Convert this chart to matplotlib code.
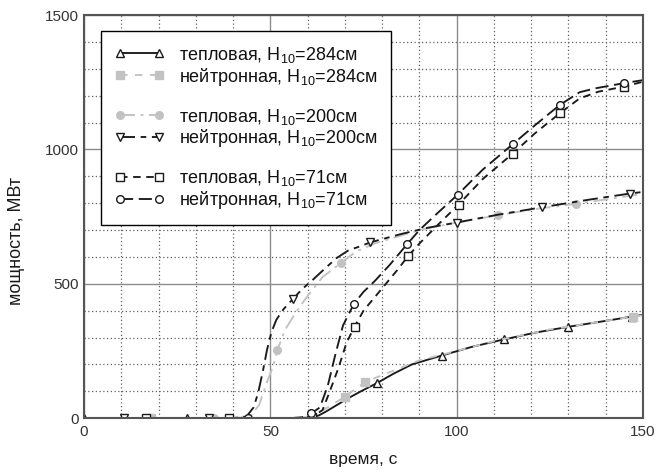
import matplotlib
matplotlib.use('Agg')
import matplotlib.pyplot as plt
from matplotlib.lines import Line2D

plt.rcParams['font.family'] = ['Liberation Sans', 'DejaVu Sans']
plt.rcParams['mathtext.fontset'] = 'custom'
plt.rcParams['mathtext.rm'] = 'Liberation Sans'
plt.rcParams['mathtext.it'] = 'Liberation Sans:italic'
plt.rcParams['mathtext.default'] = 'regular'

# тепловая, H10=284 см
t284_x = [0, 10.6, 27.5, 44, 55, 61, 63, 65, 68, 71, 75, 78.7, 83, 88, 96,
          104, 112.7, 121, 130, 140, 147, 150]
t284_y = [0, 0, 0, 0, 0, 2, 10, 25, 50, 75, 105, 131, 165, 200, 233,
          265, 293, 318, 340, 362, 378, 385]
t284_m = [0, 1, 2, 3, 11, 14, 16, 18, 20]

# нейтронная, H10=284 см
n284_x = [0, 18, 55, 60, 63, 66, 70, 75.4, 80, 90, 100, 111, 125, 140,
          147.2, 150]
n284_y = [0, 0, 0, 3, 20, 45, 80, 134, 160, 215, 250, 290, 330, 362,
          378, 383]
n284_m = [1, 6, 7, 14]

# тепловая, H10=200 см
t200_x = [0, 35, 42, 45, 47, 49, 50.7, 51.9, 54, 57, 60, 64, 68.9, 73, 78,
          90, 100, 111, 121, 132, 142, 150]
t200_y = [0, 0, 2, 12, 50, 130, 192, 254, 330, 397, 455, 525, 577, 620, 650,
          700, 728, 755, 778, 798, 818, 835]
t200_m = [1, 7, 12, 17, 19]

# нейтронная, H10=200 см
n200_x = [0, 10.7, 33.4, 40, 43.6, 45.5, 46.7, 48, 49.1, 50.3, 51.6, 53.5,
          56.1, 58.5, 61.4, 64.5, 67.7, 71, 74, 76.8, 85, 92, 100, 111, 123,
          135, 146.5, 150]
n200_y = [0, 0, 0, 0, 6, 40, 93, 175, 254, 320, 366, 405, 444, 480, 515,
          555, 595, 625, 639, 654, 685, 708, 728, 757, 785, 812, 836, 842]
n200_m = [1, 2, 12, 19, 22, 24, 26]

# тепловая, H10=71 см
t71_x = [0, 16.7, 39, 55, 61.3, 64, 65.4, 66.9, 68.4, 70.4, 72.6, 75, 78, 81,
         84, 86.9, 90, 95, 100.5, 107, 115, 121, 127.7, 133, 138, 144.9, 150]
t71_y = [0, 0, 0, 0, 5, 30, 80, 135, 192, 279, 341, 400, 450, 500,
         550, 602, 650, 720, 795, 890, 984, 1060, 1135, 1190, 1215, 1234, 1252]
t71_m = [1, 2, 4, 10, 15, 18, 20, 22, 25]

# нейтронная, H10=71 см
n71_x = [0, 44, 58, 61, 63.3, 65.4, 67.5, 69.5, 72.4, 75, 78, 82, 86.8, 90,
         95, 100.3, 107, 115, 121, 127.7, 133, 137, 141, 144.9, 150]
n71_y = [0, 0, 0, 18, 40, 120, 240, 345, 425, 470, 510, 570, 649, 700,
         765, 832, 925, 1019, 1090, 1166, 1213, 1227, 1237, 1247, 1258]
n71_m = [1, 3, 8, 12, 15, 17, 19, 23]

BLACK = '#1a1a1a'
GRAY = '#c2c2c2'

SERIES = [
    (t284_x, t284_y, t284_m, dict(color=BLACK, ls='-', marker='^', mfc='white',
                                 mec=BLACK, label='тепловая, H$_{10}$=284см')),
    (n284_x, n284_y, n284_m, dict(color=GRAY, ls=(0, (4, 4)), marker='s',
                                 mfc=GRAY, mec=GRAY,
                                 label='нейтронная, H$_{10}$=284см')),
    (t200_x, t200_y, t200_m, dict(color=GRAY, ls=(0, (8, 3, 1.5, 3)), marker='o',
                                 mfc=GRAY, mec=GRAY,
                                 label='тепловая, H$_{10}$=200см')),
    (n200_x, n200_y, n200_m, dict(color=BLACK, ls=(0, (8, 3, 3, 3)), marker='v',
                                 mfc='white', mec=BLACK,
                                 label='нейтронная, H$_{10}$=200см')),
    (t71_x, t71_y, t71_m, dict(color=BLACK, ls=(0, (4, 3)), marker='s',
                               mfc='white', mec=BLACK,
                               label='тепловая, H$_{10}$=71см')),
    (n71_x, n71_y, n71_m, dict(color=BLACK, ls=(0, (7, 3)), marker='o',
                               mfc='white', mec=BLACK,
                               label='нейтронная, H$_{10}$=71см')),
]

fig = plt.figure(figsize=(6.67, 4.73), dpi=100)
ax = fig.add_axes([0.126, 0.116, 0.838, 0.852])

handles = []
for i, (xs, ys, marks, st) in enumerate(SERIES):
    ax.plot(xs, ys, lw=1.35, ms=5.5, mew=1, markevery=marks, **st)
    handles.append(Line2D([], [], lw=1.35, ms=5.5, mew=1, **st))
    if i in (1, 3):
        handles.append(Line2D([], [], ls='none', label=' '))

ax.set_xlim(0, 150)
ax.set_ylim(0, 1500)
ax.set_xticks([0, 50, 100, 150])
ax.set_yticks([0, 500, 1000, 1500])
ax.set_xticks(range(0, 151, 10), minor=True)
ax.set_yticks(range(0, 1501, 100), minor=True)
ax.set_axisbelow(True)
ax.grid(which='major', color='#8c8c8c', lw=1, ls='-')
ax.grid(which='minor', color='#606060', lw=0.9, ls=(0, (1, 2)))
ax.tick_params(which='both', length=0, labelsize=11, labelcolor='#333333')
ax.tick_params(axis='x', pad=5)
ax.tick_params(axis='y', pad=4)
for sp in ax.spines.values():
    sp.set_color('#555555')
    sp.set_linewidth(1.5)

ax.set_xlabel('время, с', fontsize=12.5, color='#1a1a1a')
ax.set_ylabel('мощность, МВт', fontsize=13, color='#1a1a1a')
ax.xaxis.set_label_coords(0.5, -0.085)
ax.yaxis.set_label_coords(-0.105, 0.44)

leg = ax.legend(handles=handles, loc='upper left', bbox_to_anchor=(0.030, 0.960),
                borderaxespad=0, fontsize=13, numpoints=2, handlelength=2.8,
                handletextpad=0.8, labelspacing=0.05, borderpad=0.75,
                fancybox=False, framealpha=1, edgecolor='black')
leg.get_frame().set_linewidth(1)
for txt in leg.get_texts():
    txt.set_color('#111111')

fig.savefig('out.png', dpi=100)
